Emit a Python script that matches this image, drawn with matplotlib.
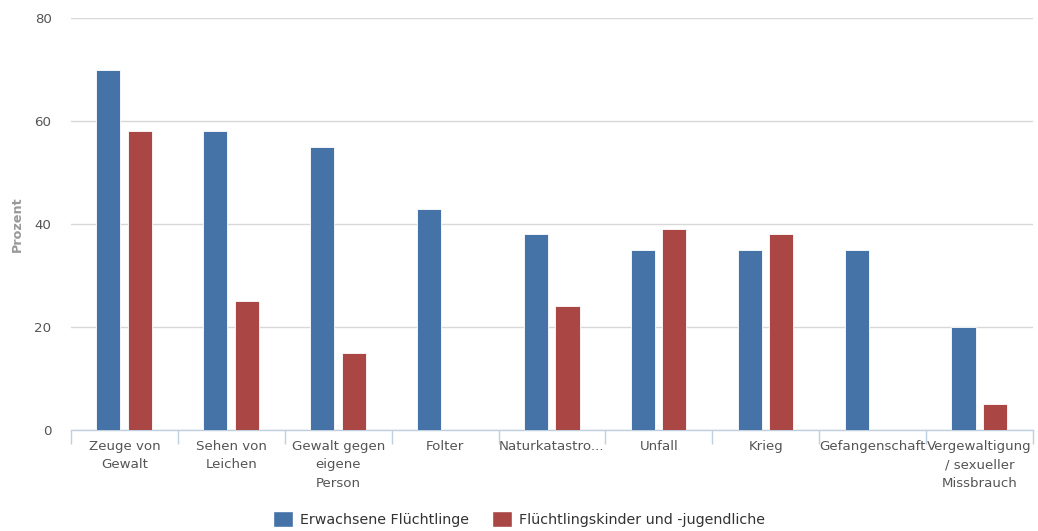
import numpy as np
import matplotlib
matplotlib.use("Agg")
import matplotlib.pyplot as plt
from matplotlib.patches import Patch

categories = ["Zeuge von\nGewalt", "Sehen von\nLeichen", "Gewalt gegen\neigene\nPerson", "Folter",
              "Naturkatastro...", "Unfall", "Krieg", "Gefangenschaft",
              "Vergewaltigung\n/ sexueller\nMissbrauch"]
adults = [70, 58, 55, 43, 38, 35, 35, 35, 20]
children = [58, 25, 15, np.nan, 24, 39, 38, np.nan, 5]
series_names = ["Erwachsene Flüchtlinge", "Flüchtlingskinder und -jugendliche"]
yticks = [0, 20, 40, 60, 80]

blue = "#4572A7"
red = "#AA4643"

plt.rcParams["font.family"] = ["DejaVu Sans"]

fig = plt.figure(figsize=(10.38, 5.31), dpi=100)
ax = fig.add_axes([71 / 1038, 101 / 531, 962 / 1038, 412 / 531])

x = np.arange(len(categories))
w = 0.225
ax.bar(x - 0.15, adults, w, color=blue, edgecolor="white", linewidth=0.6, zorder=3)
ax.bar(x + 0.145, children, w, color=red, edgecolor="white", linewidth=0.6, zorder=3)

ax.set_xlim(-0.5, len(categories) - 0.5)
ax.set_ylim(0, 80)
ax.set_yticks(yticks)
ax.tick_params(axis="y", length=0, pad=14, labelsize=9.6, labelcolor="#555555")
ax.yaxis.grid(True, color="#D8D8D8", linewidth=1, zorder=0)

ax.set_xticks(x)
ax.set_xticklabels(categories, fontsize=9.6, color="#555555", linespacing=1.55, va="top")
ax.tick_params(axis="x", length=0, pad=7)
ax.set_xticks(np.arange(len(categories) + 1) - 0.5, minor=True)
ax.tick_params(axis="x", which="minor", length=10, color="#C0D0E0", width=1)

for side in ["top", "right", "left"]:
    ax.spines[side].set_visible(False)
ax.spines["bottom"].set_color("#C0D0E0")
ax.spines["bottom"].set_linewidth(1)

ax.set_ylabel("Prozent", fontsize=9.2, color="#999999", fontweight="bold")
ax.yaxis.set_label_coords(-0.049, 0.5)

handles = [Patch(facecolor=blue, edgecolor="white"), Patch(facecolor=red, edgecolor="white")]
fig.legend(handles, series_names, loc="center", bbox_to_anchor=(0.5, 12 / 531), ncol=2,
           frameon=False, fontsize=10.3, handlelength=1.4, handleheight=1.3,
           handletextpad=0.5, columnspacing=1.6, labelcolor="#333333")

fig.savefig("out.png", dpi=100)
